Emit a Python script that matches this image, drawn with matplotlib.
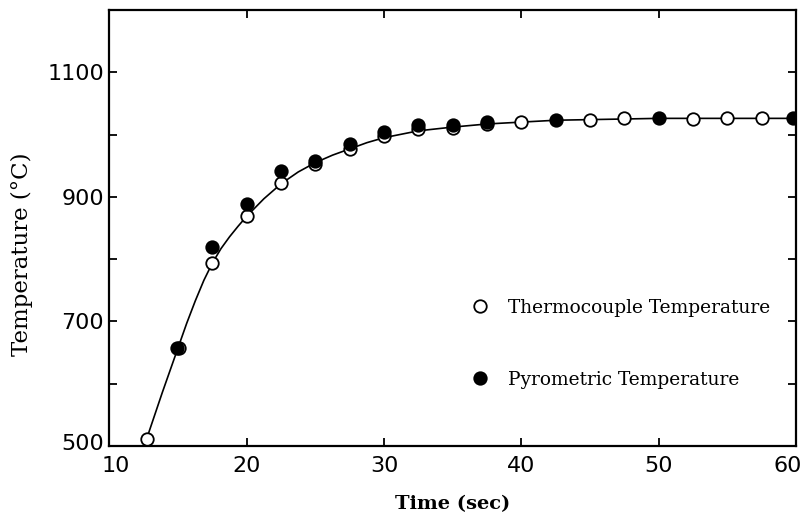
import numpy as np
import matplotlib
matplotlib.use("Agg")
from matplotlib import pyplot as plt
from matplotlib.ticker import MultipleLocator
from matplotlib.transforms import ScaledTranslation

# thermocouple readings (open circles)
tc_time = [12.7, 15.1, 17.5, 20, 22.5, 25, 27.5, 30, 32.5, 35, 37.5, 40,
           45, 47.5, 52.5, 55, 57.5]
tc_temp = [511, 658, 794, 870, 922, 953, 977, 998, 1009, 1011, 1017, 1020,
           1024, 1026, 1025, 1026, 1026]

# pyrometer readings (filled circles)
py_time = [14.9, 17.5, 20, 22.5, 25, 27.5, 30, 32.5, 35, 37.5, 42.5, 50, 59.8]
py_temp = [658, 819, 889, 941, 958, 985, 1004, 1015, 1016, 1020, 1024, 1027, 1027]

# hand drawn curve through the points
curve_time = [12.7, 13.85, 15, 15.625, 16.25, 16.875, 17.5, 18.125, 18.75, 19.375,
              20, 21.25, 22.5, 23.75, 25, 26.25, 27.5, 28.75, 30, 32.5, 35, 37.5,
              40, 42.5, 45, 50, 55, 60]
curve_temp = [511, 586, 658, 697, 733, 766, 794, 817, 836, 853,
              869, 897, 921, 940, 955, 967, 977, 987, 995, 1006, 1012, 1017,
              1020, 1023, 1024, 1026, 1026, 1026]

SERIF = "DejaVu Serif"

fig = plt.figure(figsize=(8.02, 5.15), dpi=100)
ax = fig.add_axes([0.1365, 0.134, 0.856, 0.8466])

ax.plot(curve_time, curve_temp, color="black", lw=1.2, zorder=2)
ax.plot(tc_time, tc_temp, "o", ms=9, mfc="white", mec="black", mew=1.3,
        zorder=3, label="Thermocouple Temperature")
ax.plot(py_time, py_temp, "o", ms=9, mfc="black", mec="black", mew=1.3,
        zorder=4, label="Pyrometric Temperature")

ax.set_xlim(10, 60)
ax.set_ylim(500, 1200)
ax.set_xticks([10, 20, 30, 40, 50, 60])
ax.set_yticks([500, 700, 900, 1100])
ax.yaxis.set_minor_locator(MultipleLocator(100))

ax.tick_params(axis="both", which="both", direction="in", length=6, width=1.3,
               labelsize=16)
ax.tick_params(axis="x", pad=7)
ax.tick_params(axis="y", pad=4)
ax.tick_params(axis="y", which="both", right=True)
ax.tick_params(axis="x", which="major", top=True)
for s in ax.spines.values():
    s.set_linewidth(1.6)

# nudge the corner labels apart like in the original
xl = ax.get_xticklabels()
yl = ax.get_yticklabels()
xl[0].set_transform(xl[0].get_transform() + ScaledTranslation(6 / 100, 0, fig.dpi_scale_trans))
xl[-1].set_transform(xl[-1].get_transform() + ScaledTranslation(-8 / 100, 0, fig.dpi_scale_trans))
yl[0].set_transform(yl[0].get_transform() + ScaledTranslation(0, 4 / 100, fig.dpi_scale_trans))

ax.set_xlabel("Time (sec)", family=SERIF, fontsize=14, fontweight="bold", labelpad=14)
ax.set_ylabel("Temperature (°C)", family=SERIF, fontsize=16.5)
ax.yaxis.set_label_coords(-0.111, 0.44)

leg = ax.legend(loc="upper left", bbox_to_anchor=(0.526, 0.338), frameon=False,
                prop={"family": SERIF, "size": 13.4}, handlelength=1.0,
                handletextpad=1.0, labelspacing=2.9, borderpad=0, borderaxespad=0,
                numpoints=1)

fig.savefig("out.png", dpi=100)
